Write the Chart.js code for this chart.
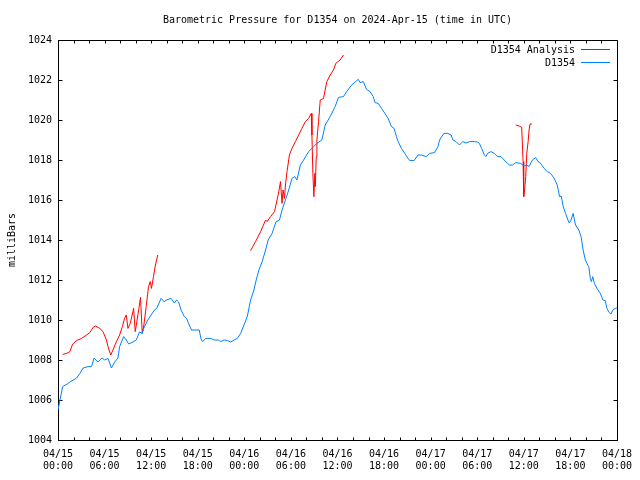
<!DOCTYPE html>
<html>
<head>
<meta charset="utf-8">
<script src="https://cdn.jsdelivr.net/npm/chart.js@4"></script>
<style>
  html, body { margin: 0; padding: 0; background: #ffffff; }
  #wrap { width: 640px; height: 480px; }
</style>
</head>
<body>
<div id="wrap"><canvas id="c" width="640" height="480"></canvas></div>
<script>
// ---- data (hours since 2024-04-15 00:00 UTC, pressure in mb) ----
const titleText = 'Barometric Pressure for D1354 on 2024-Apr-15 (time in UTC)';
const yAxisTitle = 'milliBars';
const seriesNames = ['D1354 Analysis', 'D1354'];
const dayLabels = ['04/15', '04/15', '04/15', '04/15', '04/16', '04/16', '04/16', '04/16', '04/17', '04/17', '04/17', '04/17', '04/18'];
const timeLabels = ['00:00', '06:00', '12:00', '18:00', '00:00', '06:00', '12:00', '18:00', '00:00', '06:00', '12:00', '18:00', '00:00'];

const blueHours = [0,0.6,1.19,1.54,2.4,2.82,3.24,3.88,4.32,4.65,5.16,5.68,6.02,6.44,6.88,7.3,7.72,7.94,8.45,8.8,9.1,9.65,10.08,10.5,10.85,11.06,11.57,12,12.43,12.72,13.28,13.71,13.93,14.57,14.99,15.28,15.54,15.85,16.27,16.56,16.91,17.2,18.19,18.41,18.61,19.05,19.69,20.11,20.66,20.97,21.39,21.82,22.25,22.68,23.1,23.53,23.96,24.38,24.81,25.24,25.53,25.88,26.3,26.74,27.07,27.58,28.09,28.53,28.86,29.3,29.72,30.14,30.49,30.78,31.22,31.64,32.28,32.71,33.35,33.99,34.42,35.06,35.7,36.13,36.77,37.19,37.83,38.47,38.69,38.9,39.33,39.75,40.19,40.61,40.83,41.25,41.67,42.11,42.53,42.95,43.3,43.6,43.81,44.24,44.67,45.09,45.31,45.86,46.37,46.8,47.44,47.87,48.51,48.94,49.15,49.71,50.22,50.64,50.86,51.28,51.72,52.14,52.56,53,53.64,54.06,54.28,54.57,54.92,55.13,55.34,55.77,56.2,56.62,57.05,57.48,57.9,58.12,58.55,58.97,59.61,60.04,60.38,60.68,61.11,61.53,61.84,62.17,62.61,63.03,63.45,63.89,64.31,64.61,64.82,65.08,65.38,65.81,66.02,66.36,66.66,67.09,67.38,67.64,67.93,68.24,68.37,68.57,68.7,68.88,69.09,69.43,69.86,70.2,70.49,70.71,71.01,71.23,71.48,71.78,72];
const bluePressure = [1005.5,1006.67,1006.8,1006.9,1007.1,1007.33,1007.6,1007.67,1007.67,1008.1,1007.9,1008.1,1008.0,1008.08,1007.6,1007.9,1008.1,1008.67,1009.17,1009.0,1008.8,1008.9,1009.0,1009.4,1009.33,1009.6,1010.0,1010.25,1010.5,1010.58,1011.08,1010.9,1011.0,1011.08,1010.85,1011.0,1010.9,1010.5,1010.17,1010.08,1009.75,1009.5,1009.5,1009.08,1008.92,1009.08,1009.08,1009.0,1009.0,1008.92,1009.0,1008.97,1008.9,1009.0,1009.08,1009.33,1009.75,1010.17,1011.0,1011.5,1012.0,1012.5,1012.92,1013.5,1014.0,1014.33,1014.92,1015.0,1015.5,1016.0,1016.5,1017.08,1017.17,1017.0,1017.75,1018.0,1018.42,1018.58,1018.83,1019.0,1019.75,1020.17,1020.67,1021.13,1021.17,1021.42,1021.75,1021.97,1022.03,1021.87,1021.92,1021.53,1021.42,1021.17,1020.87,1020.83,1020.58,1020.33,1020.08,1019.67,1019.58,1019.17,1018.92,1018.58,1018.33,1018.08,1017.97,1017.97,1018.25,1018.25,1018.17,1018.33,1018.37,1018.67,1019.0,1019.33,1019.33,1019.25,1019.0,1018.92,1018.75,1018.92,1018.85,1018.92,1018.92,1018.9,1018.83,1018.58,1018.25,1018.17,1018.33,1018.42,1018.33,1018.17,1018.17,1018.0,1017.83,1017.75,1017.75,1017.87,1017.83,1017.7,1017.75,1017.67,1018.0,1018.12,1017.92,1017.83,1017.58,1017.42,1017.33,1017.1,1016.75,1016.17,1016.2,1015.67,1015.33,1014.87,1014.92,1015.33,1014.75,1014.5,1014.17,1013.5,1013.0,1012.75,1012.67,1012.08,1011.92,1012.17,1011.83,1011.58,1011.33,1011.0,1010.97,1010.58,1010.37,1010.3,1010.5,1010.58,1010.6];

const redHours = [0.6,1.11,1.54,1.88,2.4,3.04,3.68,4.1,4.52,4.83,5.38,5.8,6.24,6.44,6.79,7.08,7.52,7.94,8.29,8.58,8.8,9.01,9.31,9.65,9.74,9.95,10.16,10.42,10.63,10.85,11.06,11.36,11.66,11.88,12.04,12.3,12.55,12.85,
  18,
  24.81,25.45,26.1,26.74,26.94,27.38,27.89,28.22,28.44,28.66,28.86,28.99,29.17,29.3,29.5,29.81,30.14,30.58,31,31.42,31.86,32.28,32.63,32.71,32.83,32.96,33.09,33.14,33.27,33.35,33.56,33.78,34.2,34.63,35.06,35.49,35.78,36.34,36.77,
  45,
  58.97,59.4,59.73,59.91,59.99,60.12,60.25,60.38,60.56,60.68,60.81,61.04];
const redPressure = [1008.28,1008.33,1008.42,1008.8,1008.97,1009.08,1009.25,1009.37,1009.63,1009.7,1009.58,1009.42,1009.0,1008.67,1008.25,1008.5,1008.92,1009.25,1009.67,1010.08,1010.25,1009.58,1009.83,1010.42,1010.58,1009.42,1009.92,1010.58,1011.13,1009.33,1009.75,1010.67,1011.67,1011.92,1011.58,1012.17,1012.75,1013.25,
  null,
  1013.47,1013.92,1014.42,1015.0,1014.92,1015.17,1015.42,1016.0,1016.42,1016.92,1015.83,1016.5,1016.08,1016.75,1017.42,1018.25,1018.58,1018.92,1019.25,1019.58,1019.92,1020.08,1020.33,1019.25,1017.33,1016.17,1017.33,1016.67,1018.17,1019.0,1019.92,1021.0,1021.08,1021.92,1022.25,1022.5,1022.83,1023.0,1023.25,
  null,
  1019.75,1019.7,1019.63,1017.92,1016.17,1016.58,1017.17,1018.33,1018.92,1019.5,1019.8,1019.8];

const redColor = '#ff0000';
const blueColor = '#0080ff';
const FONT = '"DejaVu Sans Mono", "Liberation Mono", monospace';

const zip = (xs, ys) => xs.map((x, i) => ({ x: x, y: ys[i] }));

// frame, inward ticks and in-plot legend
const gnuplotDecor = {
  id: 'gnuplotDecor',
  beforeDatasetsDraw(chart) {
    const ctx = chart.ctx;
    const a = chart.chartArea;
    const xs = chart.scales.x, ys = chart.scales.y;
    ctx.save();
    ctx.strokeStyle = '#000';
    ctx.lineWidth = 1;
    const L = Math.round(a.left) + 0.5, R = Math.round(a.right) + 0.5;
    const T = Math.round(a.top) + 0.5, B = Math.round(a.bottom) + 0.5;
    ctx.beginPath();
    ctx.rect(L, T, R - L, B - T);
    for (let h = 0; h <= 72; h += 2) {
      const px = Math.round(xs.getPixelForValue(h)) + 0.5;
      const len = 3;
      ctx.moveTo(px, B); ctx.lineTo(px, B - len);
      ctx.moveTo(px, T); ctx.lineTo(px, T + len);
    }
    for (let v = 1004; v <= 1024; v += 2) {
      const py = Math.round(ys.getPixelForValue(v)) + 0.5;
      ctx.moveTo(L, py); ctx.lineTo(L + 4, py);
      ctx.moveTo(R, py); ctx.lineTo(R - 4, py);
    }
    ctx.stroke();
    ctx.restore();
  },
  afterDraw(chart) {
    const ctx = chart.ctx;
    ctx.save();
    ctx.font = '10px ' + FONT;
    ctx.fillStyle = '#000';
    ctx.textAlign = 'right';
    ctx.textBaseline = 'middle';
    const rows = [[seriesNames[0], redColor, 49.5], [seriesNames[1], blueColor, 62.5]];
    rows.forEach(([t, c, y]) => {
      ctx.fillText(t, 575, y + 0.5);
      ctx.strokeStyle = c;
      ctx.lineWidth = 1;
      ctx.beginPath();
      ctx.moveTo(581, y); ctx.lineTo(610, y);
      ctx.stroke();
    });
    ctx.restore();
  }
};

new Chart(document.getElementById('c'), {
  type: 'line',
  data: {
    datasets: [
      { label: seriesNames[1], data: zip(blueHours, bluePressure), borderColor: blueColor, borderWidth: 1, pointRadius: 0, tension: 0, fill: false },
      { label: seriesNames[0], data: zip(redHours, redPressure), borderColor: redColor, borderWidth: 1, pointRadius: 0, tension: 0, fill: false, spanGaps: false }
    ]
  },
  options: {
    responsive: false,
    animation: false,
    devicePixelRatio: 1,
    layout: { padding: { left: 0, right: 20, top: 0, bottom: 0 } },
    plugins: {
      legend: { display: false },
      tooltip: { enabled: false },
      title: {
        display: true,
        fullSize: false,
        text: titleText,
        color: '#000',
        font: { family: FONT, size: 10, weight: 'normal', lineHeight: 1.2 },
        padding: { top: 14, bottom: 14 }
      }
    },
    scales: {
      x: {
        type: 'linear',
        min: 0, max: 72,
        grid: { display: false, drawTicks: false },
        border: { display: false },
        ticks: {
          stepSize: 6,
          autoSkip: false,
          maxRotation: 0,
          padding: 8,
          color: '#000',
          font: { family: FONT, size: 10, lineHeight: 1.2 },
          callback: (v) => { const i = Math.round(v / 6); return [dayLabels[i], timeLabels[i]]; }
        },
        afterFit: (s) => { s.height = 40; }
      },
      y: {
        min: 1004, max: 1024,
        grid: { display: false, drawTicks: false },
        border: { display: false },
        ticks: {
          stepSize: 2,
          padding: 6,
          color: '#000',
          font: { family: FONT, size: 10 },
          callback: (v) => String(v)
        },
        title: {
          display: true,
          text: yAxisTitle,
          color: '#000',
          font: { family: FONT, size: 10, lineHeight: 1.2 },
          padding: { top: 6, bottom: 0 }
        },
        afterFit: (s) => { s.width = 58; }
      }
    }
  },
  plugins: [gnuplotDecor]
});
</script>
</body>
</html>
